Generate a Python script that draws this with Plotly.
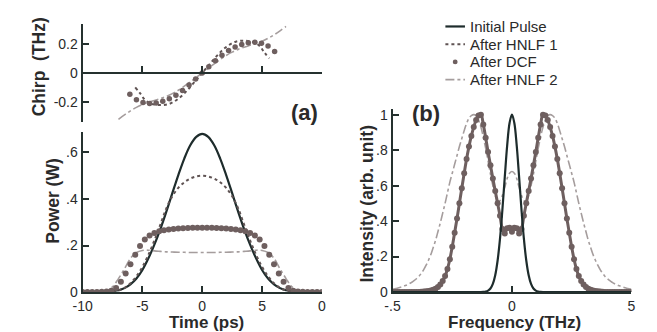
import numpy as np
import plotly.graph_objects as go

W, H = 657, 332

# ---------------- data ----------------
# (a) temporal power, t grid step 0.5 ps
T_POWER = [-10, -9.5, -9, -8.5, -8, -7.5, -7, -6.5, -6, -5.5, -5, -4.5, -4, -3.5, -3, -2.5, -2, -1.5, -1, -0.5,
           0, 0.5, 1, 1.5, 2, 2.5, 3, 3.5, 4, 4.5, 5, 5.5, 6, 6.5, 7, 7.5, 8, 8.5, 9, 9.5, 10]
P_INITIAL = [0, 0, 0, 0.001, 0.002, 0.004, 0.008, 0.017, 0.033, 0.058, 0.095, 0.145, 0.204, 0.271, 0.346, 0.425,
             0.503, 0.574, 0.631, 0.667, 0.680, 0.667, 0.631, 0.574, 0.503, 0.425, 0.346, 0.271, 0.204, 0.145,
             0.095, 0.058, 0.033, 0.017, 0.008, 0.004, 0.002, 0.001, 0, 0, 0]
P_HNLF1 = [0, 0, 0, 0, 0.001, 0.002, 0.007, 0.018, 0.038, 0.068, 0.108, 0.160, 0.222, 0.290, 0.360, 0.412,
           0.448, 0.472, 0.488, 0.497, 0.500, 0.497, 0.488, 0.472, 0.448, 0.412, 0.360, 0.290, 0.222, 0.160,
           0.108, 0.068, 0.038, 0.018, 0.007, 0.002, 0.001, 0, 0, 0, 0]
P_HNLF2 = [0, 0, 0, 0.001, 0.006, 0.022, 0.058, 0.100, 0.145, 0.170, 0.179, 0.180, 0.177, 0.175, 0.173, 0.172,
           0.171, 0.171, 0.170, 0.170, 0.170, 0.170, 0.170, 0.171, 0.171, 0.172, 0.173, 0.175, 0.177, 0.180,
           0.179, 0.170, 0.145, 0.100, 0.058, 0.022, 0.006, 0.001, 0, 0, 0]
# DCF power, t grid step 0.4 ps
T_DCF = [-10, -9.6, -9.2, -8.8, -8.4, -8.0, -7.6, -7.2, -6.8, -6.4, -6.0, -5.6, -5.2, -4.8, -4.4, -4.0, -3.6,
         -3.2, -2.8, -2.4, -2.0, -1.6, -1.2, -0.8, -0.4, 0, 0.4, 0.8, 1.2, 1.6, 2.0, 2.4, 2.8, 3.2, 3.6, 4.0,
         4.4, 4.8, 5.2, 5.6, 6.0, 6.4, 6.8, 7.2, 7.6, 8.0, 8.4, 8.8, 9.2, 9.6, 10]
P_DCF = [0, 0, 0, 0, 0.001, 0.002, 0.006, 0.018, 0.044, 0.080, 0.120, 0.160, 0.198, 0.226, 0.243, 0.254, 0.262,
         0.266, 0.269, 0.271, 0.273, 0.274, 0.275, 0.276, 0.276, 0.276, 0.276, 0.276, 0.275, 0.274, 0.273, 0.271,
         0.269, 0.266, 0.262, 0.254, 0.243, 0.226, 0.198, 0.160, 0.120, 0.080, 0.044, 0.018, 0.006, 0.002,
         0.001, 0, 0, 0, 0]

# (a) chirp
T_CHIRP_HNLF1 = [-5.6, -5.2, -4.8, -4.4, -4.0, -3.6, -3.2, -2.8, -2.4, -2.0, -1.6, -1.2, -0.8, -0.4, 0,
                 0.4, 0.8, 1.2, 1.6, 2.0, 2.4, 2.8, 3.2, 3.6, 4.0, 4.4, 4.8, 5.2, 5.6]
C_HNLF1 = [-0.100, -0.140, -0.185, -0.208, -0.218, -0.222, -0.221, -0.215, -0.200, -0.178, -0.150, -0.115,
           -0.078, -0.039, 0, 0.039, 0.078, 0.115, 0.150, 0.178, 0.200, 0.215, 0.221, 0.222, 0.218, 0.208,
           0.185, 0.140, 0.100]
T_CHIRP_DCF = [-6.05, -5.5, -4.95, -4.4, -3.85, -3.3, -2.75, -2.2, -1.65, -1.1, -0.55, 0,
               0.55, 1.1, 1.65, 2.2, 2.75, 3.3, 3.85, 4.4, 4.95, 5.5, 6.05]
C_DCF = [-0.147, -0.185, -0.205, -0.211, -0.207, -0.196, -0.178, -0.155, -0.122, -0.084, -0.042, 0,
         0.042, 0.084, 0.122, 0.155, 0.178, 0.196, 0.207, 0.211, 0.205, 0.185, 0.147]
T_CHIRP_HNLF2 = [-7, -6.5, -6, -5.5, -5, -4.5, -4, -3.5, -3, -2.5, -2, -1.5, -1, -0.5, 0,
                 0.5, 1, 1.5, 2, 2.5, 3, 3.5, 4, 4.5, 5, 5.5, 6, 6.5, 7]
C_HNLF2 = [-0.320, -0.290, -0.262, -0.238, -0.218, -0.203, -0.190, -0.177, -0.162, -0.143, -0.120, -0.092,
           -0.062, -0.031, 0, 0.031, 0.062, 0.092, 0.120, 0.143, 0.162, 0.177, 0.190, 0.203, 0.218, 0.238,
           0.262, 0.290, 0.320]

# (b) spectra, frequency grid -5..5 THz step 0.1
FREQ = [round(-5 + 0.1 * i, 1) for i in range(101)]
S_INITIAL = ([0] * 38 +
             [0.001, 0.003, 0.008, 0.020, 0.046, 0.095, 0.178, 0.301, 0.464, 0.649, 0.825, 0.953,
              1.000,
              0.953, 0.825, 0.649, 0.464, 0.301, 0.178, 0.095, 0.046, 0.020, 0.008, 0.003, 0.001] +
             [0] * 38)
S_DCF = [0, 0, 0, 0, 0, 0, 0, 0, 0, 0,
         0.001, 0.001, 0.002, 0.003, 0.004, 0.006, 0.009, 0.013, 0.019, 0.028,
         0.042, 0.062, 0.090, 0.130, 0.185, 0.255, 0.335, 0.415, 0.500, 0.585,
         0.670, 0.750, 0.820, 0.880, 0.930, 0.970, 0.995, 1.000, 0.945, 0.870,
         0.790, 0.715, 0.640, 0.570, 0.500, 0.430, 0.355, 0.330, 0.360, 0.362,
         0.340,
         0.362, 0.360, 0.330, 0.355, 0.430, 0.500, 0.570, 0.640, 0.715, 0.790,
         0.870, 0.945, 1.000, 0.995, 0.970, 0.930, 0.880, 0.820, 0.750, 0.670,
         0.585, 0.500, 0.415, 0.335, 0.255, 0.185, 0.130, 0.090, 0.062, 0.042,
         0.028, 0.019, 0.013, 0.009, 0.006, 0.004, 0.003, 0.002, 0.001, 0.001,
         0, 0, 0, 0, 0, 0, 0, 0, 0, 0]
S_HNLF2 = [0.017, 0.019, 0.022, 0.026, 0.030, 0.035, 0.040, 0.047, 0.055, 0.064,
           0.075, 0.088, 0.105, 0.125, 0.150, 0.178, 0.210, 0.250, 0.290, 0.340,
           0.390, 0.445, 0.500, 0.560, 0.620, 0.670, 0.720, 0.770, 0.820, 0.865,
           0.910, 0.950, 0.980, 0.995, 1.000, 0.995, 0.970, 0.930, 0.875, 0.810,
           0.740, 0.665, 0.600, 0.545, 0.515, 0.515, 0.545, 0.590, 0.640, 0.670,
           0.680,
           0.670, 0.640, 0.590, 0.545, 0.515, 0.515, 0.545, 0.600, 0.665, 0.740,
           0.810, 0.875, 0.930, 0.970, 0.995, 1.000, 0.995, 0.980, 0.950, 0.910,
           0.865, 0.820, 0.770, 0.720, 0.670, 0.620, 0.560, 0.500, 0.445, 0.390,
           0.340, 0.290, 0.250, 0.210, 0.178, 0.150, 0.125, 0.105, 0.088, 0.075,
           0.064, 0.055, 0.047, 0.040, 0.035, 0.030, 0.026, 0.022, 0.019, 0.017]

LEGEND_NAMES = ["Initial Pulse", "After HNLF 1", "After DCF", "After HNLF 2"]

# ---------------- styles ----------------
C_SOLID = "#1e2c2c"
C_DOT = "#6e5f5f"
C_DOTTED = "#5f5353"
C_DASHDOT = "#a59d9d"
C_AXIS = "#25312f"
C_TEXT = "#2a2a2a"
FONT = "Liberation Sans, Arial, sans-serif"


def px_x(p):
    return p / W


def px_y(p):
    return 1 - p / H


fig = go.Figure()

# bottom (a): power
fig.add_trace(go.Scatter(x=T_POWER, y=P_INITIAL, mode="lines", line=dict(color=C_SOLID, width=2.2, shape="spline"),
                         xaxis="x", yaxis="y", showlegend=False))
fig.add_trace(go.Scatter(x=T_POWER, y=P_HNLF1, mode="lines",
                         line=dict(color=C_DOTTED, width=2, dash="dot", shape="spline"),
                         xaxis="x", yaxis="y", showlegend=False))
fig.add_trace(go.Scatter(x=T_POWER, y=P_HNLF2, mode="lines",
                         line=dict(color=C_DASHDOT, width=1.6, dash="dashdot", shape="spline"),
                         xaxis="x", yaxis="y", showlegend=False))
fig.add_trace(go.Scatter(x=T_DCF, y=P_DCF, mode="markers", marker=dict(color=C_DOT, size=6),
                         xaxis="x", yaxis="y", showlegend=False))

# top (a): chirp
fig.add_trace(go.Scatter(x=T_CHIRP_HNLF2, y=C_HNLF2, mode="lines",
                         line=dict(color=C_DASHDOT, width=1.6, dash="dashdot", shape="spline"),
                         xaxis="x2", yaxis="y2", showlegend=False))
fig.add_trace(go.Scatter(x=T_CHIRP_HNLF1, y=C_HNLF1, mode="lines",
                         line=dict(color=C_DOTTED, width=2, dash="dot", shape="spline"),
                         xaxis="x2", yaxis="y2", showlegend=False))
fig.add_trace(go.Scatter(x=T_CHIRP_DCF, y=C_DCF, mode="markers", marker=dict(color=C_DOT, size=5.5),
                         xaxis="x2", yaxis="y2", showlegend=False))

# (b): spectra
fig.add_trace(go.Scatter(x=FREQ, y=S_HNLF2, mode="lines",
                         line=dict(color=C_DASHDOT, width=1.6, dash="dashdot", shape="spline"),
                         xaxis="x3", yaxis="y3", showlegend=False))
fig.add_trace(go.Scatter(x=FREQ, y=S_DCF, mode="lines+markers",
                         line=dict(color=C_DOT, width=3, shape="spline"),
                         marker=dict(color=C_DOT, size=6),
                         xaxis="x3", yaxis="y3", showlegend=False))
fig.add_trace(go.Scatter(x=FREQ, y=S_INITIAL, mode="lines", line=dict(color=C_SOLID, width=2.2, shape="spline"),
                         xaxis="x3", yaxis="y3", showlegend=False))

axis_common = dict(showline=True, linecolor=C_AXIS, linewidth=2, ticks="inside", tickcolor=C_AXIS,
                   tickwidth=2, ticklen=6, showgrid=False, zeroline=False,
                   tickfont=dict(family=FONT, size=14, color=C_TEXT))

dom_a = [px_x(66), px_x(310.5)]
dom_b = [px_x(382.7), px_x(626.7)]

fig.update_layout(
    width=W, height=H, margin=dict(l=0, r=0, t=0, b=0),
    paper_bgcolor="white", plot_bgcolor="white",
    xaxis=dict(axis_common, domain=dom_a, range=[-10, 10], anchor="y",
               tickvals=[-10, -5, 0, 5, 10], ticktext=["-10", "-5", "0", "5", "0"]),
    yaxis=dict(axis_common, domain=[px_y(290.7), px_y(124.7)], range=[0, 0.69], anchor="x",
               tickvals=[0, 0.2, 0.4, 0.6], ticktext=["0", ".2", ".4", ".6"]),
    xaxis2=dict(axis_common, domain=dom_a, range=[-10, 10], anchor="free", position=px_y(64),
                tickvals=[-5, 0, 5, 10], showticklabels=False),
    yaxis2=dict(axis_common, domain=[px_y(115), px_y(13.3)], range=[-0.34, 0.338], anchor="x2",
                tickvals=[-0.2, 0, 0.2], ticktext=["-0.2", "0", "0.2"]),
    xaxis3=dict(axis_common, domain=dom_b, range=[-5, 5], anchor="y3",
                tickvals=[-5, 0, 5], ticktext=["-.5", "0", "5"]),
    yaxis3=dict(axis_common, domain=[px_y(290.7), px_y(101.7)], range=[0, 1.03], anchor="x3",
                tickvals=[0, 0.2, 0.4, 0.6, 0.8, 1], ticktext=["0", ".2", ".4", ".6", ".8", "1"]),
)

ann = []


def add_text(text, x, y, size=17.5, bold=True, angle=0, xanchor="center"):
    ann.append(dict(text=("<b>%s</b>" % text) if bold else text, x=px_x(x), y=px_y(y), xref="paper",
                    yref="paper", showarrow=False, textangle=angle, xanchor=xanchor, yanchor="middle",
                    font=dict(family=FONT, size=size, color=C_TEXT)))


add_text("Time (ps)", 192.8, 322, size=17)
add_text("Frequency (THz)", 507, 322, size=17)
add_text("Power (W)", 35, 196, angle=-90)
add_text("Chirp\u00a0\u00a0(THz)", 21.7, 58, angle=-90)
add_text("Intensity (arb. unit)", 356.7, 199, angle=-90)
add_text("(a)", 293, 105, size=22)
add_text("(b)", 416.7, 106, size=22)

legend_rows = [16, 34.3, 52.7, 71]
for name, yy in zip(LEGEND_NAMES, legend_rows):
    add_text(name, 459.3, yy, size=15, bold=False, xanchor="left")
fig.update_layout(annotations=ann)

shapes = [
    dict(type="line", xref="paper", yref="paper", x0=px_x(436.7), x1=px_x(456.7), y0=px_y(16), y1=px_y(16),
         line=dict(color=C_SOLID, width=2.2)),
    dict(type="line", xref="paper", yref="paper", x0=px_x(436.7), x1=px_x(456.7), y0=px_y(34.3), y1=px_y(34.3),
         line=dict(color=C_DOTTED, width=2, dash="dot")),
    dict(type="circle", xref="paper", yref="paper", x0=px_x(444.2), x1=px_x(449.2), y0=px_y(50.2),
         y1=px_y(55.2), fillcolor=C_DOT, line=dict(color=C_DOT, width=0)),
    dict(type="line", xref="paper", yref="paper", x0=px_x(436.7), x1=px_x(456.7), y0=px_y(71), y1=px_y(71),
         line=dict(color=C_DASHDOT, width=1.6, dash="dashdot")),
]
fig.update_layout(shapes=shapes)

fig.write_html("out.html")
